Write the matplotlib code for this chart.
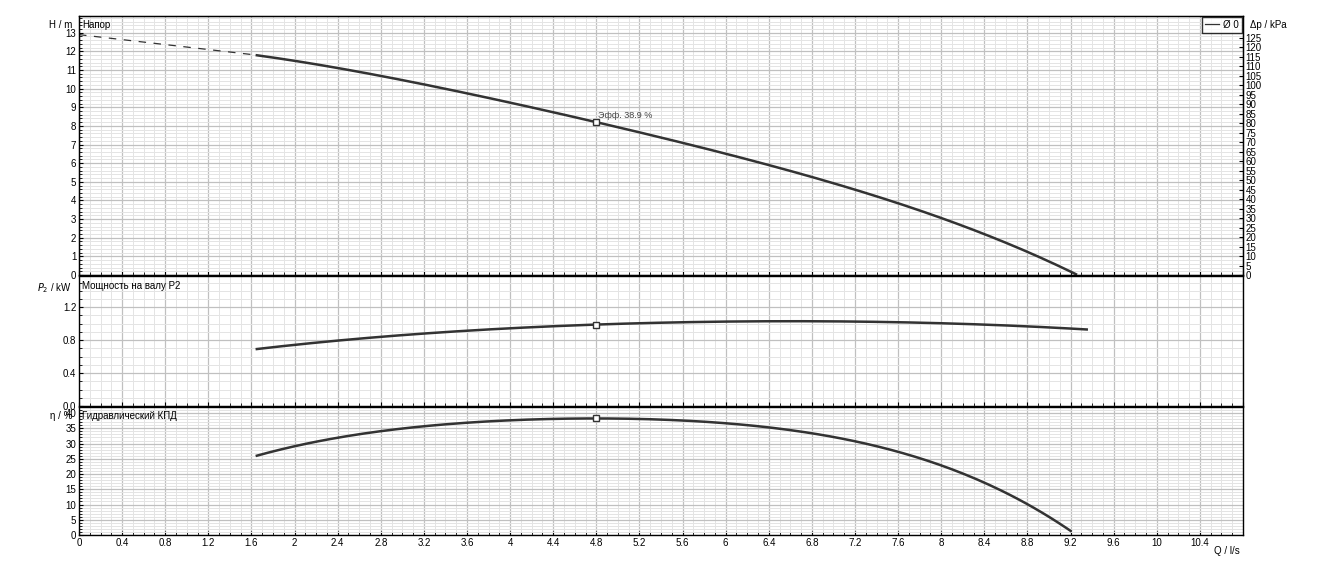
import matplotlib
matplotlib.use("Agg")
import matplotlib.pyplot as plt
import numpy as np
from matplotlib.ticker import MultipleLocator

plt.rcParams['font.family'] = ['Liberation Sans', 'DejaVu Sans']

q_dash = [0.0, 1.65]
h_dash = [12.9, 11.8]
q_h = [1.65, 2.4, 3.2, 4.0, 4.8, 5.6, 6.4, 7.2, 8.0, 8.8, 9.25]
h_vals = [11.8, 11.1, 10.2, 9.3, 8.2, 7.1, 5.85, 4.55, 3.2, 1.1, 0.1]
q_p = [1.65, 2.4, 3.2, 4.0, 4.8, 5.6, 6.4, 7.2, 8.0, 8.8, 9.35]
p_vals = [0.69, 0.80, 0.88, 0.94, 0.99, 1.02, 1.03, 1.03, 1.00, 0.97, 0.93]
q_e = [1.65, 2.4, 3.2, 4.0, 4.8, 5.6, 6.4, 7.2, 8.0, 8.4, 8.8, 9.2]
e_vals = [26.0, 32.0, 35.6, 37.6, 38.3, 37.6, 35.3, 30.7, 22.8, 17.2, 10.2, 1.3]
q_op = 4.8
h_op, p_op, e_op = 8.2, 0.99, 38.3
op_label = "Эфф. 38.9 %"
x_ticks = [0, 0.4, 0.8, 1.2, 1.6, 2, 2.4, 2.8, 3.2, 3.6, 4, 4.4, 4.8, 5.2, 5.6, 6,
           6.4, 6.8, 7.2, 7.6, 8, 8.4, 8.8, 9.2, 9.6, 10, 10.4]

def smooth(x, y):
    c = np.polyfit(x, y, 4)
    xs = np.linspace(x[0], x[-1], 200)
    return xs, np.polyval(c, xs)

fig = plt.figure(figsize=(13.23, 5.71), dpi=100)
L, W = 79/1323, 1164/1323
axH = fig.add_axes([L, 1-275/571, W, 259/571])
axP = fig.add_axes([L, 1-406/571, W, 130/571])
axE = fig.add_axes([L, 1-535/571, W, 128/571])

lc = '#333333'
for ax in (axH, axP, axE):
    ax.set_xlim(0, 10.8)
    ax.xaxis.set_major_locator(MultipleLocator(0.4))
    ax.xaxis.set_minor_locator(MultipleLocator(0.1))
    ax.grid(True, which='major', color='#c0c0c0', lw=0.9)
    ax.grid(True, which='minor', color='#e4e4e4', lw=0.7)
    ax.set_axisbelow(True)
    ax.tick_params(labelsize=7, length=3, width=0.8, direction='in', pad=2)
    ax.tick_params(which='minor', length=2, direction='in')
    for s in ax.spines.values():
        s.set_linewidth(1.0)

axH.plot(q_dash, h_dash, color=lc, lw=0.9, dashes=(6, 6))
axH.plot(*smooth(q_h, h_vals), color=lc, lw=1.8)
axH.plot([q_op], [h_op], 's', mfc='white', mec=lc, ms=5)
axH.text(q_op + 0.02, h_op + 0.25, op_label, fontsize=6.5, color='#444444')
axH.set_ylim(0, 13.9)
axH.yaxis.set_major_locator(MultipleLocator(1))
axH.yaxis.set_minor_locator(MultipleLocator(0.2))
axH.tick_params(labelbottom=False)
axH.text(0.003, 0.985, 'Напор', transform=axH.transAxes, fontsize=7, va='top')
axH.text(-0.006, 0.985, 'H / m', transform=axH.transAxes, fontsize=7, va='top', ha='right')
ax2 = axH.twinx()
ax2.set_ylim(0, 13.9*9.81)
ax2.yaxis.set_major_locator(MultipleLocator(5))
ax2.set_yticks(np.arange(0, 130, 5))
ax2.tick_params(labelsize=7, length=3, direction='in', pad=2)
ax2.text(1.006, 0.985, 'Δp / kPa', transform=axH.transAxes, fontsize=7, va='top')
axH.plot([], [], color=lc, lw=0.9, label='Ø 0')
axH.legend(loc='upper right', fontsize=7, handlelength=1.5, frameon=True, fancybox=False,
           edgecolor='black', borderaxespad=0.1, borderpad=0.3, handletextpad=0.4)

axP.plot(*smooth(q_p, p_vals), color=lc, lw=1.8)
axP.plot([q_op], [p_op], 's', mfc='white', mec=lc, ms=5)
axP.set_ylim(0, 1.58)
axP.set_yticks([0, 0.4, 0.8, 1.2])
axP.yaxis.set_minor_locator(MultipleLocator(0.1))
axP.tick_params(labelbottom=False)
axP.text(0.003, 0.96, 'Мощность на валу P2', transform=axP.transAxes, fontsize=7, va='top')
axP.text(-0.006, 0.96, '$P_2$ / kW', transform=axP.transAxes, fontsize=7, va='top', ha='right')

axE.plot(*smooth(q_e, e_vals), color=lc, lw=1.8)
axE.plot([q_op], [e_op], 's', mfc='white', mec=lc, ms=5)
axE.set_ylim(0, 42)
axE.yaxis.set_major_locator(MultipleLocator(5))
axE.yaxis.set_minor_locator(MultipleLocator(1))
axE.set_xticks(x_ticks)
axE.set_xticklabels([f'{t:g}' for t in x_ticks])
axE.text(0.003, 0.97, 'Гидравлический КПД', transform=axE.transAxes, fontsize=7, va='top')
axE.text(-0.006, 0.97, 'η / %', transform=axE.transAxes, fontsize=7, va='top', ha='right')
axE.text(0.997, -0.085, 'Q / l/s', transform=axE.transAxes, fontsize=7, va='top', ha='right')

fig.savefig('out.png', dpi=100, facecolor='white')
